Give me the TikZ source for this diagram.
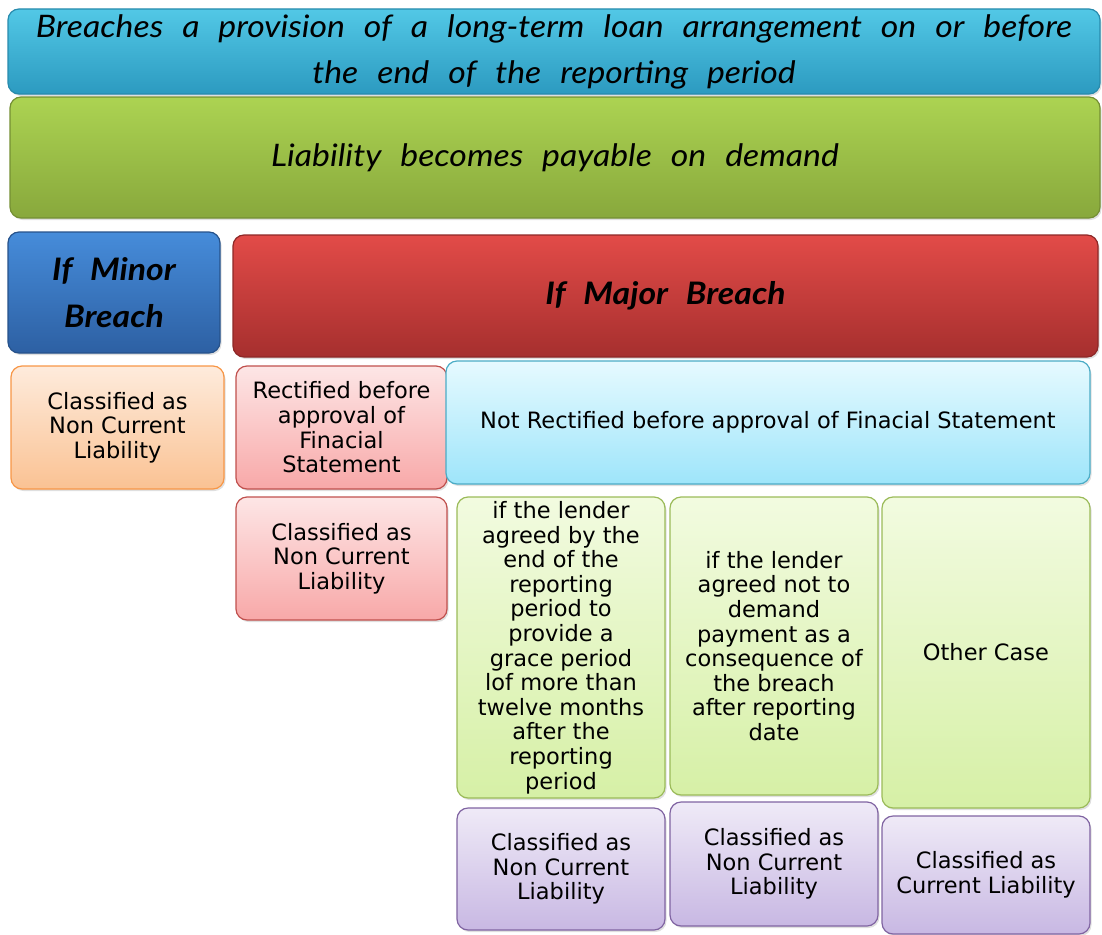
\documentclass[tikz,border=0pt]{standalone}
\usepackage{fontspec}
\setmainfont{DejaVu Sans}
\newfontfamily\headfont[WordSpace=2.4, FakeStretch=1.09]{Lato}
\usepackage{tikz}
\usetikzlibrary{shadows}

\definecolor{headbluetop}{HTML}{52C8E6}
\definecolor{headblue}{HTML}{2C9AC0}
\definecolor{headgreentop}{HTML}{ACD352}
\definecolor{headgreen}{HTML}{88A83C}
\definecolor{minorbluetop}{HTML}{468CDA}
\definecolor{minorblue}{HTML}{2D60A3}
\definecolor{majorredtop}{HTML}{E24B48}
\definecolor{majorred}{HTML}{A62F2E}
\definecolor{orangetop}{HTML}{FEEBDC}
\definecolor{orangebot}{HTML}{FAC293}
\definecolor{orangeline}{HTML}{F79646}
\definecolor{pinktop}{HTML}{FDE6E6}
\definecolor{pinkbot}{HTML}{F8A8A8}
\definecolor{pinkline}{HTML}{C0504D}
\definecolor{cyantop}{HTML}{E6FAFF}
\definecolor{cyanbot}{HTML}{9EE5FA}
\definecolor{cyanline}{HTML}{4BACC6}
\definecolor{greentop}{HTML}{F2FBE0}
\definecolor{greenbot}{HTML}{D6F0A6}
\definecolor{greenline}{HTML}{9BBB59}
\definecolor{purpletop}{HTML}{EFEAF7}
\definecolor{purplebot}{HTML}{C8B8E3}
\definecolor{purpleline}{HTML}{8064A2}

\tikzset{
  box/.style={rounded corners=11pt, line width=1.2pt, align=center, inner sep=0pt,
    drop shadow={opacity=0.25, shadow xshift=1.5pt, shadow yshift=-2pt}},
  title/.style={box, font=\headfont\itshape\fontsize{31}{46}\selectfont},
  major/.style={box, font=\headfont\itshape\bfseries\fontsize{31}{47}\selectfont},
  small/.style={box, font=\fontsize{22.5}{24.6}\selectfont},
  orangebox/.style={small, draw=orangeline, top color=orangetop, bottom color=orangebot},
  pinkbox/.style={small, draw=pinkline, top color=pinktop, bottom color=pinkbot},
  cyanbox/.style={small, draw=cyanline, top color=cyantop, bottom color=cyanbot},
  greenbox/.style={small, draw=greenline, top color=greentop, bottom color=greenbot},
  purplebox/.style={small, draw=purpleline, top color=purpletop, bottom color=purplebot},
}

\begin{document}
\begin{tikzpicture}[x=1pt, y=-1pt]
  \useasboundingbox (0,0) rectangle (1102,934);

  \node [title, draw=headblue!90!black, top color=headbluetop, bottom color=headblue,
    minimum width=1092pt, minimum height=85pt] (breach) at (554,51.5)
    {Breaches a provision of a long-term loan arrangement on or before\\the end of the reporting period};
  \node [title, draw=headgreen!85!black, top color=headgreentop, bottom color=headgreen,
    minimum width=1090pt, minimum height=121pt] (demand) at (555,157.5)
    {Liability becomes payable on demand};

  \node [major, draw=minorblue!85!black, top color=minorbluetop, bottom color=minorblue,
    minimum width=212pt, minimum height=121pt] (minor) at (114,292.5) {If Minor\\Breach};
  \node [major, draw=majorred!85!black, top color=majorredtop, bottom color=majorred,
    minimum width=865pt, minimum height=122pt] (majorbr) at (665.5,296) {If Major Breach};

  \node [orangebox, minimum width=213pt, minimum height=123pt] (minorcls) at (117.5,427.5)
    {Classified as\\Non Current\\Liability};
  \node [pinkbox, minimum width=211pt, minimum height=123pt] (rect) at (341.5,427.5)
    {Rectified before\\approval of\\Finacial\\Statement};
  \node [cyanbox, minimum width=644pt, minimum height=123pt] (notrect) at (768,422.5)
    {Not Rectified before approval of Finacial Statement};
  \node [pinkbox, minimum width=211pt, minimum height=123pt] (rectcls) at (341.5,558.5)
    {Classified as\\Non Current\\Liability};

  \node [greenbox, minimum width=208pt, minimum height=301pt] (grace) at (561,647.5)
    {if the lender\\agreed by the\\end of the\\reporting\\period to\\provide a\\grace period\\lof more than\\twelve months\\after the\\reporting\\period};
  \node [greenbox, minimum width=208pt, minimum height=298pt] (nodemand) at (774,646)
    {if the lender\\agreed not to\\demand\\payment as a\\consequence of\\the breach\\after reporting\\date};
  \node [greenbox, minimum width=208pt, minimum height=311pt] (other) at (986,652.5)
    {Other Case};

  \node [purplebox, minimum width=208pt, minimum height=122pt] (gracecls) at (561,869)
    {Classified as\\Non Current\\Liability};
  \node [purplebox, minimum width=208pt, minimum height=124pt] (nodemandcls) at (774,864)
    {Classified as\\Non Current\\Liability};
  \node [purplebox, minimum width=208pt, minimum height=118pt] (othercls) at (986,875)
    {Classified as\\Current Liability};
\end{tikzpicture}
\end{document}
